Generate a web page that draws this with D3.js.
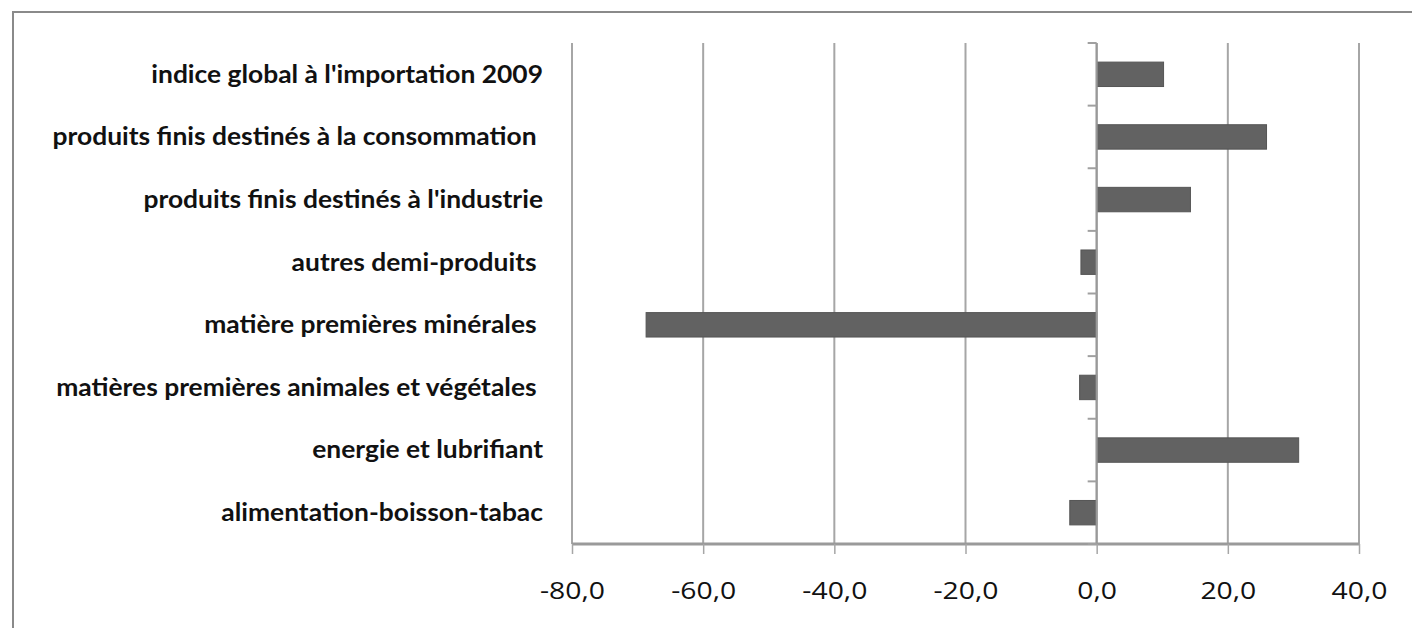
<!DOCTYPE html>
<html>
<head>
<meta charset="utf-8">
<script src="https://cdn.jsdelivr.net/npm/d3@7"></script>
<style>
  body { margin: 0; background: #fff; }
  text { white-space: pre; }
</style>
</head>
<body>
<svg></svg>
<script>
// categories from top to bottom
var categories = [
  "indice global à l'importation 2009",
  "produits finis destinés à la consommation ",
  "produits finis destinés à l'industrie",
  "autres demi-produits ",
  "matière premières minérales ",
  "matières premières animales et végétales ",
  "energie et lubrifiant",
  "alimentation-boisson-tabac"
];
var values = [10.2, 25.9, 14.3, -2.4, -68.7, -2.6, 30.8, -4.1];
var xTicks = [-80, -60, -40, -20, 0, 20, 40];

var screen = { width: 1412, height: 628 };

var svg = d3.select("svg")
            .attr("width", screen.width)
            .attr("height", screen.height);

// outer frame
svg.append("rect")
   .attr("x", 13).attr("y", 12)
   .attr("width", 1420).attr("height", 640)
   .attr("fill", "#fff")
   .attr("stroke", "#8a8a8a")
   .attr("stroke-width", 2);

var plot = { left: 572, right: 1359, top: 43, bottom: 544 };

var xScale = d3.scaleLinear()
               .domain([-80, 40])
               .range([plot.left, plot.right]);

var yScale = d3.scaleBand()
               .domain(categories)
               .range([plot.top, plot.bottom])
               .paddingInner(0.61)
               .paddingOuter(0.305);

var yTickScale = d3.scaleBand()
               .domain(categories)
               .range([plot.top, plot.bottom]);

// vertical gridlines
svg.append("g")
   .selectAll("line")
   .data(xTicks)
   .enter()
   .append("line")
   .attr("x1", function(d){ return xScale(d); })
   .attr("x2", function(d){ return xScale(d); })
   .attr("y1", plot.top)
   .attr("y2", plot.bottom)
   .attr("stroke", "#a6a6a6")
   .attr("stroke-width", 2);

// x axis
var xAxis = d3.axisBottom(xScale)
              .tickValues(xTicks)
              .tickSize(10)
              .tickFormat(function(d){ return d3.format(".1f")(d).replace(".", ",").replace("−", "-"); });

var xg = svg.append("g")
   .attr("transform", "translate(0," + plot.bottom + ")")
   .call(xAxis);
xg.select(".domain").attr("stroke", "#9a9a9a").attr("stroke-width", 3)
  .attr("d", "M" + plot.left + ",0H" + plot.right);
xg.selectAll(".tick line").attr("stroke", "#a6a6a6").attr("stroke-width", 1.5).attr("y1", 0).attr("y2", 10);
xg.selectAll(".tick text")
  .attr("y", 0)
  .attr("dy", "0.35em")
  .attr("transform", "translate(0,47) scale(1.18,1)")
  .attr("fill", "#111")
  .style("font-family", "'Open Sans', sans-serif")
  .style("font-size", "24px");

// bars
svg.append("g")
   .selectAll("rect")
   .data(values)
   .enter()
   .append("rect")
   .attr("x", function(d){ return xScale(Math.min(0, d)); })
   .attr("y", function(d, i){ return yScale(categories[i]); })
   .attr("width", function(d){ return Math.abs(xScale(d) - xScale(0)); })
   .attr("height", yScale.bandwidth())
   .attr("fill", "#626262")
   .attr("stroke", "#555")
   .attr("stroke-width", 1);

// category axis at zero
var x0 = xScale(0);
svg.append("line")
   .attr("x1", x0).attr("x2", x0)
   .attr("y1", plot.top).attr("y2", plot.bottom)
   .attr("stroke", "#999").attr("stroke-width", 2);

var catTicks = categories.map(function(c){ return yTickScale(c); }).concat([plot.bottom]);
svg.append("g")
   .selectAll("line")
   .data(catTicks)
   .enter()
   .append("line")
   .attr("x1", x0 - 9).attr("x2", x0)
   .attr("y1", function(d){ return d; })
   .attr("y2", function(d){ return d; })
   .attr("stroke", "#a0a0a0")
   .attr("stroke-width", 2);

// category labels
svg.append("g")
   .selectAll("text")
   .data(categories)
   .enter()
   .append("text")
   .attr("transform", function(d){
     return "translate(543," + (yTickScale(d) + yTickScale.bandwidth() / 2) + ") scale(1.1,1)";
   })
   .attr("dy", "0.35em")
   .attr("text-anchor", "end")
   .attr("fill", "#111")
   .style("font-family", "Lato, sans-serif")
   .style("font-weight", "bold")
   .style("font-size", "24px")
   .text(function(d){ return d; });
</script>
</body>
</html>
